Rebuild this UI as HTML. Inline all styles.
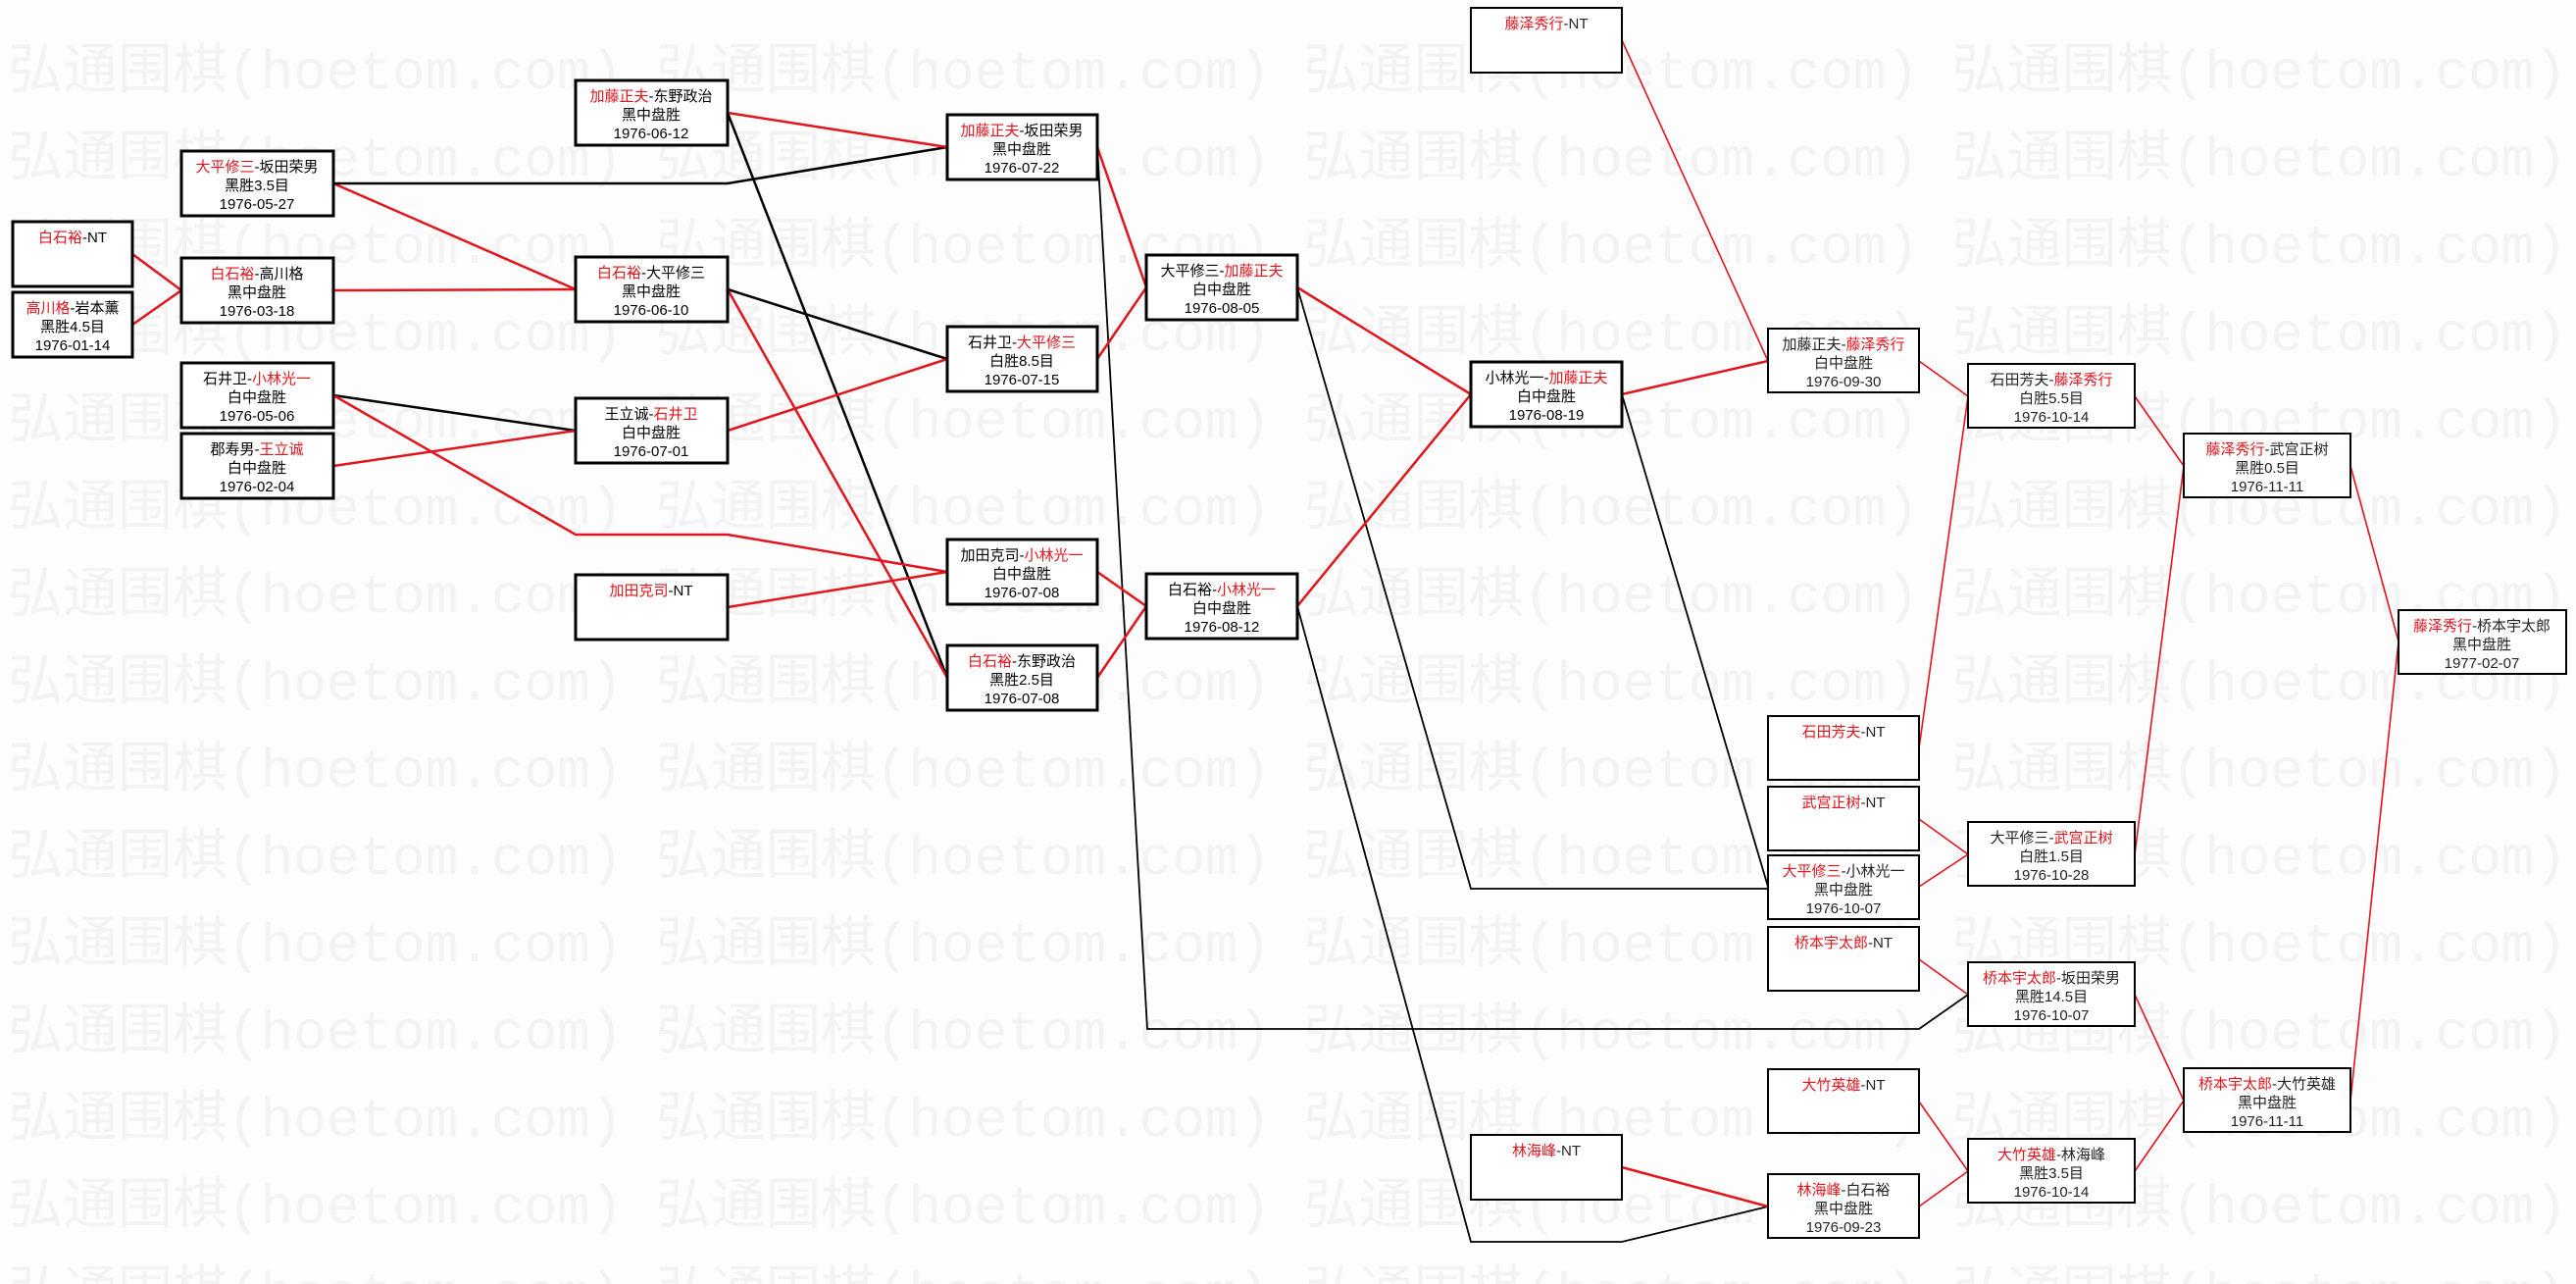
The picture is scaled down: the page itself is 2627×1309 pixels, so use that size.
<!DOCTYPE html>
<html><head><meta charset="utf-8"><style>
html,body{margin:0;padding:0;background:#fdfdfd;}
svg{display:block;}
.wm{font-family:"Liberation Mono","Noto Sans CJK SC",monospace;font-size:56px;fill:#f3f3f3;}
.t{font-family:"Liberation Sans","Noto Sans CJK SC",sans-serif;font-size:15px;text-anchor:middle;fill:#000;}
.t2{font-family:"Liberation Sans","Noto Sans CJK SC",sans-serif;font-size:15px;text-anchor:middle;fill:#222;}
.r{fill:#e3141c;}
.b1{fill:#fff;stroke:#000;stroke-width:3;}
.b2{fill:#fff;stroke:#000;stroke-width:2;}
.lr{fill:none;stroke:#e3141c;stroke-width:2.5;}
.lk{fill:none;stroke:#000;stroke-width:2.5;}
.lr2{fill:none;stroke:#e3141c;stroke-width:1.6;}
.lk2{fill:none;stroke:#000;stroke-width:1.8;}
</style></head><body>
<svg width="2627" height="1309" viewBox="0 0 2627 1309" xmlns="http://www.w3.org/2000/svg">
<rect width="2627" height="1309" fill="#fdfdfd"/>
<g class="wm">
<text x="8" y="90">弘通围棋(hoetom.com) 弘通围棋(hoetom.com) 弘通围棋(hoetom.com) 弘通围棋(hoetom.com)</text>
<text x="8" y="179">弘通围棋(hoetom.com) 弘通围棋(hoetom.com) 弘通围棋(hoetom.com) 弘通围棋(hoetom.com)</text>
<text x="8" y="268">弘通围棋(hoetom.com) 弘通围棋(hoetom.com) 弘通围棋(hoetom.com) 弘通围棋(hoetom.com)</text>
<text x="8" y="357">弘通围棋(hoetom.com) 弘通围棋(hoetom.com) 弘通围棋(hoetom.com) 弘通围棋(hoetom.com)</text>
<text x="8" y="446">弘通围棋(hoetom.com) 弘通围棋(hoetom.com) 弘通围棋(hoetom.com) 弘通围棋(hoetom.com)</text>
<text x="8" y="535">弘通围棋(hoetom.com) 弘通围棋(hoetom.com) 弘通围棋(hoetom.com) 弘通围棋(hoetom.com)</text>
<text x="8" y="624">弘通围棋(hoetom.com) 弘通围棋(hoetom.com) 弘通围棋(hoetom.com) 弘通围棋(hoetom.com)</text>
<text x="8" y="713">弘通围棋(hoetom.com) 弘通围棋(hoetom.com) 弘通围棋(hoetom.com) 弘通围棋(hoetom.com)</text>
<text x="8" y="802">弘通围棋(hoetom.com) 弘通围棋(hoetom.com) 弘通围棋(hoetom.com) 弘通围棋(hoetom.com)</text>
<text x="8" y="891">弘通围棋(hoetom.com) 弘通围棋(hoetom.com) 弘通围棋(hoetom.com) 弘通围棋(hoetom.com)</text>
<text x="8" y="980">弘通围棋(hoetom.com) 弘通围棋(hoetom.com) 弘通围棋(hoetom.com) 弘通围棋(hoetom.com)</text>
<text x="8" y="1069">弘通围棋(hoetom.com) 弘通围棋(hoetom.com) 弘通围棋(hoetom.com) 弘通围棋(hoetom.com)</text>
<text x="8" y="1158">弘通围棋(hoetom.com) 弘通围棋(hoetom.com) 弘通围棋(hoetom.com) 弘通围棋(hoetom.com)</text>
<text x="8" y="1247">弘通围棋(hoetom.com) 弘通围棋(hoetom.com) 弘通围棋(hoetom.com) 弘通围棋(hoetom.com)</text>
<text x="8" y="1336">弘通围棋(hoetom.com) 弘通围棋(hoetom.com) 弘通围棋(hoetom.com) 弘通围棋(hoetom.com)</text>
</g>

<polyline class="lr" points="135,259 185,296"/>
<polyline class="lr" points="135,331 185,296"/>
<polyline class="lr" points="340,187 587,295"/>
<polyline class="lr" points="340,296 587,295"/>
<polyline class="lk" points="340,187 742,187 966,150"/>
<polyline class="lr" points="742,115 966,150"/>
<polyline class="lk" points="742,115 966,691"/>
<polyline class="lk" points="742,295 966,366"/>
<polyline class="lr" points="742,295 966,691"/>
<polyline class="lk" points="340,403 587,439"/>
<polyline class="lr" points="340,403 587,545 742,545 966,583"/>
<polyline class="lr" points="340,475 587,439"/>
<polyline class="lr" points="742,439 966,366"/>
<polyline class="lr" points="742,619 966,583"/>
<polyline class="lr" points="1119,150 1169,293"/>
<polyline class="lk2" points="1119,150 1170,1049 1957,1049 2007,1014"/>
<polyline class="lr" points="1119,366 1169,293"/>
<polyline class="lr" points="1119,583 1169,618"/>
<polyline class="lr" points="1119,691 1169,618"/>
<polyline class="lr" points="1323,293 1500,402"/>
<polyline class="lk2" points="1323,293 1500,906 1803,906"/>
<polyline class="lk2" points="1654,402 1803,904"/>
<polyline class="lr" points="1323,618 1500,402"/>
<polyline class="lk2" points="1323,618 1500,1266 1654,1266 1803,1230"/>
<polyline class="lr" points="1654,1190 1803,1230"/>
<polyline class="lr2" points="1654,41 1803,368"/>
<polyline class="lr" points="1654,402 1803,368"/>
<polyline class="lr2" points="1957,368 2007,404"/>
<polyline class="lr2" points="1957,763 2007,404"/>
<polyline class="lr2" points="1957,835 2007,871"/>
<polyline class="lr2" points="1957,904 2007,871"/>
<polyline class="lr2" points="1957,978 2007,1014"/>
<polyline class="lr2" points="1957,1123 2007,1194"/>
<polyline class="lr2" points="1957,1230 2007,1194"/>
<polyline class="lr2" points="2177,404 2227,475"/>
<polyline class="lr2" points="2177,871 2227,475"/>
<polyline class="lr2" points="2177,1014 2227,1122"/>
<polyline class="lr2" points="2177,1194 2227,1122"/>
<polyline class="lr2" points="2397,475 2446,654"/>
<polyline class="lr2" points="2397,1122 2446,654"/>

<rect class="b1" x="13" y="226" width="122" height="66"/>
<text class="t" x="74" y="247"><tspan class="r">白石裕</tspan>-NT</text>
<rect class="b1" x="13" y="298" width="122" height="66"/>
<text class="t" x="74" y="319"><tspan class="r">高川格</tspan>-岩本薰</text>
<text class="t" x="74" y="338">黑胜4.5目</text>
<text class="t" x="74" y="357">1976-01-14</text>

<rect class="b1" x="185" y="154" width="155" height="66"/>
<text class="t" x="262" y="175"><tspan class="r">大平修三</tspan>-坂田荣男</text>
<text class="t" x="262" y="194">黑胜3.5目</text>
<text class="t" x="262" y="213">1976-05-27</text>
<rect class="b1" x="185" y="263" width="155" height="66"/>
<text class="t" x="262" y="284"><tspan class="r">白石裕</tspan>-高川格</text>
<text class="t" x="262" y="303">黑中盘胜</text>
<text class="t" x="262" y="322">1976-03-18</text>
<rect class="b1" x="185" y="370" width="155" height="66"/>
<text class="t" x="262" y="391">石井卫-<tspan class="r">小林光一</tspan></text>
<text class="t" x="262" y="410">白中盘胜</text>
<text class="t" x="262" y="429">1976-05-06</text>
<rect class="b1" x="185" y="442" width="155" height="66"/>
<text class="t" x="262" y="463">郡寿男-<tspan class="r">王立诚</tspan></text>
<text class="t" x="262" y="482">白中盘胜</text>
<text class="t" x="262" y="501">1976-02-04</text>

<rect class="b1" x="587" y="82" width="155" height="66"/>
<text class="t" x="664" y="103"><tspan class="r">加藤正夫</tspan>-东野政治</text>
<text class="t" x="664" y="122">黑中盘胜</text>
<text class="t" x="664" y="141">1976-06-12</text>
<rect class="b1" x="587" y="262" width="155" height="66"/>
<text class="t" x="664" y="283"><tspan class="r">白石裕</tspan>-大平修三</text>
<text class="t" x="664" y="302">黑中盘胜</text>
<text class="t" x="664" y="321">1976-06-10</text>
<rect class="b1" x="587" y="406" width="155" height="66"/>
<text class="t" x="664" y="427">王立诚-<tspan class="r">石井卫</tspan></text>
<text class="t" x="664" y="446">白中盘胜</text>
<text class="t" x="664" y="465">1976-07-01</text>
<rect class="b1" x="587" y="586" width="155" height="66"/>
<text class="t" x="664" y="607"><tspan class="r">加田克司</tspan>-NT</text>

<rect class="b1" x="966" y="117" width="153" height="66"/>
<text class="t" x="1042" y="138"><tspan class="r">加藤正夫</tspan>-坂田荣男</text>
<text class="t" x="1042" y="157">黑中盘胜</text>
<text class="t" x="1042" y="176">1976-07-22</text>
<rect class="b1" x="966" y="333" width="153" height="66"/>
<text class="t" x="1042" y="354">石井卫-<tspan class="r">大平修三</tspan></text>
<text class="t" x="1042" y="373">白胜8.5目</text>
<text class="t" x="1042" y="392">1976-07-15</text>
<rect class="b1" x="966" y="550" width="153" height="66"/>
<text class="t" x="1042" y="571">加田克司-<tspan class="r">小林光一</tspan></text>
<text class="t" x="1042" y="590">白中盘胜</text>
<text class="t" x="1042" y="609">1976-07-08</text>
<rect class="b1" x="966" y="658" width="153" height="66"/>
<text class="t" x="1042" y="679"><tspan class="r">白石裕</tspan>-东野政治</text>
<text class="t" x="1042" y="698">黑胜2.5目</text>
<text class="t" x="1042" y="717">1976-07-08</text>

<rect class="b1" x="1169" y="260" width="154" height="66"/>
<text class="t" x="1246" y="281">大平修三-<tspan class="r">加藤正夫</tspan></text>
<text class="t" x="1246" y="300">白中盘胜</text>
<text class="t" x="1246" y="319">1976-08-05</text>
<rect class="b1" x="1169" y="585" width="154" height="66"/>
<text class="t" x="1246" y="606">白石裕-<tspan class="r">小林光一</tspan></text>
<text class="t" x="1246" y="625">白中盘胜</text>
<text class="t" x="1246" y="644">1976-08-12</text>

<rect class="b2" x="1500" y="8" width="154" height="66"/>
<text class="t2" x="1577" y="29"><tspan class="r">藤泽秀行</tspan>-NT</text>
<rect class="b1" x="1500" y="369" width="154" height="66"/>
<text class="t" x="1577" y="390">小林光一-<tspan class="r">加藤正夫</tspan></text>
<text class="t" x="1577" y="409">白中盘胜</text>
<text class="t" x="1577" y="428">1976-08-19</text>
<rect class="b2" x="1500" y="1157" width="154" height="66"/>
<text class="t2" x="1577" y="1178"><tspan class="r">林海峰</tspan>-NT</text>

<rect class="b2" x="1803" y="335" width="154" height="65"/>
<text class="t2" x="1880" y="356">加藤正夫-<tspan class="r">藤泽秀行</tspan></text>
<text class="t2" x="1880" y="375">白中盘胜</text>
<text class="t2" x="1880" y="394">1976-09-30</text>
<rect class="b2" x="1803" y="730" width="154" height="65"/>
<text class="t2" x="1880" y="751"><tspan class="r">石田芳夫</tspan>-NT</text>
<rect class="b2" x="1803" y="802" width="154" height="65"/>
<text class="t2" x="1880" y="823"><tspan class="r">武宫正树</tspan>-NT</text>
<rect class="b2" x="1803" y="872" width="154" height="65"/>
<text class="t2" x="1880" y="893"><tspan class="r">大平修三</tspan>-小林光一</text>
<text class="t2" x="1880" y="912">黑中盘胜</text>
<text class="t2" x="1880" y="931">1976-10-07</text>
<rect class="b2" x="1803" y="945" width="154" height="65"/>
<text class="t2" x="1880" y="966"><tspan class="r">桥本宇太郎</tspan>-NT</text>
<rect class="b2" x="1803" y="1090" width="154" height="65"/>
<text class="t2" x="1880" y="1111"><tspan class="r">大竹英雄</tspan>-NT</text>
<rect class="b2" x="1803" y="1197" width="154" height="65"/>
<text class="t2" x="1880" y="1218"><tspan class="r">林海峰</tspan>-白石裕</text>
<text class="t2" x="1880" y="1237">黑中盘胜</text>
<text class="t2" x="1880" y="1256">1976-09-23</text>

<rect class="b2" x="2007" y="371" width="170" height="65"/>
<text class="t2" x="2092" y="392">石田芳夫-<tspan class="r">藤泽秀行</tspan></text>
<text class="t2" x="2092" y="411">白胜5.5目</text>
<text class="t2" x="2092" y="430">1976-10-14</text>
<rect class="b2" x="2007" y="838" width="170" height="65"/>
<text class="t2" x="2092" y="859">大平修三-<tspan class="r">武宫正树</tspan></text>
<text class="t2" x="2092" y="878">白胜1.5目</text>
<text class="t2" x="2092" y="897">1976-10-28</text>
<rect class="b2" x="2007" y="981" width="170" height="65"/>
<text class="t2" x="2092" y="1002"><tspan class="r">桥本宇太郎</tspan>-坂田荣男</text>
<text class="t2" x="2092" y="1021">黑胜14.5目</text>
<text class="t2" x="2092" y="1040">1976-10-07</text>
<rect class="b2" x="2007" y="1161" width="170" height="65"/>
<text class="t2" x="2092" y="1182"><tspan class="r">大竹英雄</tspan>-林海峰</text>
<text class="t2" x="2092" y="1201">黑胜3.5目</text>
<text class="t2" x="2092" y="1220">1976-10-14</text>

<rect class="b2" x="2227" y="442" width="170" height="65"/>
<text class="t2" x="2312" y="463"><tspan class="r">藤泽秀行</tspan>-武宫正树</text>
<text class="t2" x="2312" y="482">黑胜0.5目</text>
<text class="t2" x="2312" y="501">1976-11-11</text>
<rect class="b2" x="2227" y="1089" width="170" height="65"/>
<text class="t2" x="2312" y="1110"><tspan class="r">桥本宇太郎</tspan>-大竹英雄</text>
<text class="t2" x="2312" y="1129">黑中盘胜</text>
<text class="t2" x="2312" y="1148">1976-11-11</text>

<rect class="b2" x="2446" y="622" width="171" height="65"/>
<text class="t2" x="2531" y="643"><tspan class="r">藤泽秀行</tspan>-桥本宇太郎</text>
<text class="t2" x="2531" y="662">黑中盘胜</text>
<text class="t2" x="2531" y="681">1977-02-07</text>
</svg>
</body></html>
